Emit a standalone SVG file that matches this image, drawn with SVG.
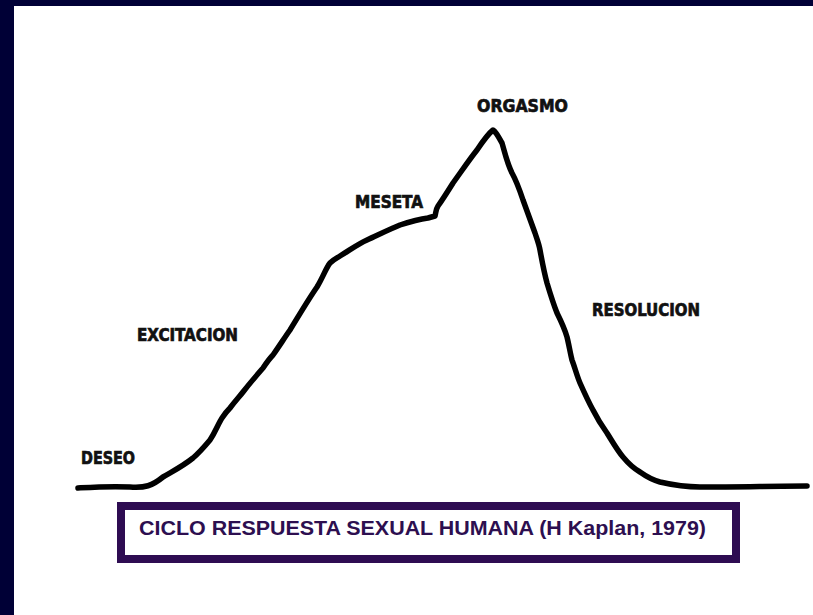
<svg xmlns="http://www.w3.org/2000/svg" width="813" height="615" viewBox="0 0 813 615">
<style>
.lbl{font-family:"DejaVu Sans Condensed","DejaVu Sans",sans-serif;font-weight:bold;font-size:18.5px;fill:#111;stroke:#111;stroke-width:0.7}
.cap{font-family:"Liberation Sans",Arial,sans-serif;font-weight:bold;font-size:20px;fill:#2d0f50}
.curve{fill:none;stroke:#000;stroke-width:5.5;stroke-linejoin:round;stroke-linecap:round}
</style>
<rect x="0" y="0" width="813" height="615" fill="#fff"/>
<rect x="0" y="0" width="813" height="6" fill="#000036"/>
<rect x="0" y="0" width="14" height="615" fill="#000036"/>
<g id="connectors">
<path class="curve" d="M78,488 C95,487 110,486 130,487 C145,488 152,486 163,477 C175,470 183,466 193,458 C200,452 205,446 210,440 C216,431 218,424 222,418 C226,412 228,410 230,408 C236,400 240,396 243,392 C250,383 256,376 263,368 C267,362 270,358 273,355 C280,345 285,337 290,330 C298,317 308,300 317,287 C323,277 326,268 330,263 C334,259 337,258 340,256 C350,250 358,244 367,240 C380,234 390,229 400,225 C412,221 420,219 428,218 L435,216 C436,212 436,209 438,206 C443,199 448,191 453,183 C461,172 469,160 477,150 C483,141 488,134 493,130 C497,133 499,138 502,143 C505,153 507,163 512,173 C517,182 520,191 523,200 C527,211 531,222 535,233 C537,239 539,244 540,250 C542,261 544,272 547,283 C550,293 553,303 557,313 C561,321 565,330 567,337 C569,345 570,352 572,360 C575,368 577,376 580,383 C584,392 588,401 593,410 C597,418 602,426 607,433 C612,441 617,450 623,457 C628,463 633,468 640,472 C647,477 653,480 660,482 C673,485 686,487 700,487 C740,487 775,486 807,486"/>
</g>
<g id="deseo"><text class="lbl" x="81" y="464" textLength="54" lengthAdjust="spacingAndGlyphs">DESEO</text></g>
<g id="excitacion"><text class="lbl" x="137" y="341" textLength="101" lengthAdjust="spacingAndGlyphs">EXCITACION</text></g>
<g id="meseta"><text class="lbl" x="355" y="208" textLength="68" lengthAdjust="spacingAndGlyphs">MESETA</text></g>
<g id="orgasmo"><text class="lbl" x="477" y="112" textLength="91" lengthAdjust="spacingAndGlyphs">ORGASMO</text></g>
<g id="resolucion"><text class="lbl" x="592" y="316" textLength="108" lengthAdjust="spacingAndGlyphs">RESOLUCION</text></g>
<g id="caption">
<rect x="121" y="506" width="615" height="53" fill="#fff" stroke="#2e0c52" stroke-width="8"/>
<text class="cap" x="139" y="535" textLength="567" lengthAdjust="spacingAndGlyphs">CICLO RESPUESTA SEXUAL HUMANA (H Kaplan, 1979)</text>
</g>
</svg>
